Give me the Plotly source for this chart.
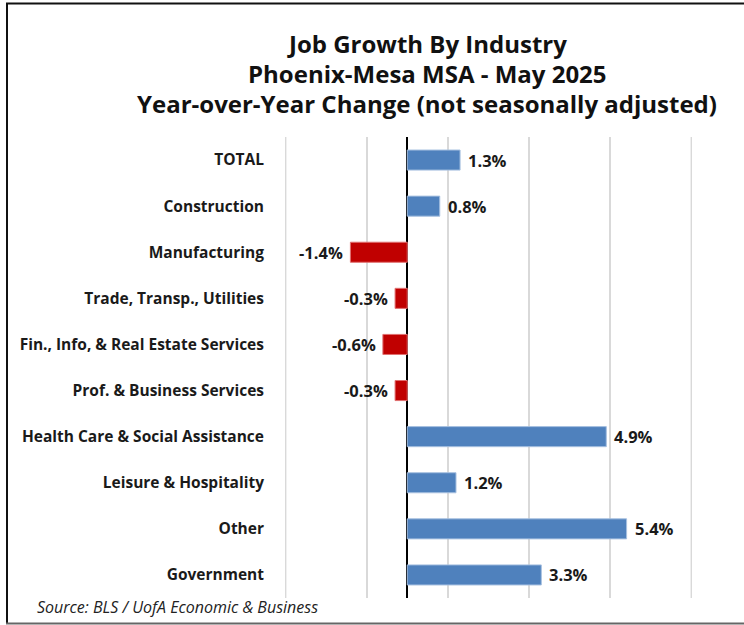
import plotly.graph_objects as go

# Year-over-year job change by industry, Phoenix-Mesa MSA, May 2025 (%)
industries = [
    "TOTAL",
    "Construction",
    "Manufacturing",
    "Trade, Transp., Utilities",
    "Fin., Info, & Real Estate Services",
    "Prof. & Business Services",
    "Health Care & Social Assistance",
    "Leisure & Hospitality",
    "Other",
    "Government",
]
yoy_change = [1.3, 0.8, -1.4, -0.3, -0.6, -0.3, 4.9, 1.2, 5.4, 3.3]

title_lines = [
    "Job Growth By Industry",
    "Phoenix-Mesa MSA - May 2025",
    "Year-over-Year Change (not seasonally adjusted)",
]
source_note = "Source: BLS / UofA Economic & Business"

X_MIN, X_MAX = -3, 7

POS_FILL, NEG_FILL = "#4F81BD", "#C00000"
POS_EDGE, NEG_EDGE = "#A7C0E0", "#E07070"
GRID = "#D9D9D9"
FONT = "'Open Sans', Lato, sans-serif"

fills = [POS_FILL if v >= 0 else NEG_FILL for v in yoy_change]
edges = [POS_EDGE if v >= 0 else NEG_EDGE for v in yoy_change]

fig = go.Figure(
    go.Bar(
        x=yoy_change,
        y=industries,
        orientation="h",
        marker=dict(color=fills, line=dict(color=edges, width=1)),
        hoverinfo="skip",
    )
)

W, H = 744, 625
L, R, T, B = 285, 52, 137, 27
plot_h = H - T - B

def py(y_px):
    # pixel row -> paper y
    return (H - B - y_px) / plot_h

def px(x_px):
    # pixel column -> paper x
    return (x_px - L) / (W - L - R)

annotations = []

# value labels just beyond the end of each bar
for name, v in zip(industries, yoy_change):
    annotations.append(
        dict(
            text=f"<b>{v:.1f}%</b>",
            x=v, y=name, xref="x", yref="y",
            xanchor="left" if v >= 0 else "right",
            xshift=6 if v >= 0 else -5,
            yanchor="middle", showarrow=False,
            font=dict(family=FONT, size=16.5, color="#1a1a1a"),
        )
    )

for line, yc in zip(title_lines, [43, 73, 103]):
    annotations.append(
        dict(
            text=f"<b>{line}</b>",
            x=px(427), y=py(yc), xref="paper", yref="paper",
            xanchor="center", yanchor="middle", showarrow=False,
            font=dict(family=FONT, size=24, color="#111111"),
        )
    )
annotations.append(
    dict(
        text=f"<i>{source_note}</i>",
        x=px(35), y=py(607), xref="paper", yref="paper",
        xanchor="left", yanchor="middle", showarrow=False,
        font=dict(family=FONT, size=16, color="#222222"),
    )
)

shapes = [
    # gridlines on the two ends of the value axis
    dict(type="line", xref="x", yref="paper", x0=xv, x1=xv, y0=0, y1=1,
         layer="below", line=dict(color=GRID, width=2))
    for xv in (X_MIN, X_MAX)
] + [
    # chart frame
    dict(type="line", xref="paper", yref="paper",
         x0=px(7), x1=px(7), y0=py(3.5), y1=py(623.5),
         line=dict(color="#111111", width=2)),
    dict(type="line", xref="paper", yref="paper",
         x0=px(6), x1=px(760), y0=py(3.5), y1=py(3.5),
         line=dict(color="#111111", width=2)),
    dict(type="line", xref="paper", yref="paper",
         x0=px(6), x1=px(760), y0=py(623.5), y1=py(623.5),
         line=dict(color="#666666", width=2)),
]

fig.update_layout(
    width=W,
    height=H,
    margin=dict(l=L, r=R, t=T, b=B, autoexpand=False),
    paper_bgcolor="white",
    plot_bgcolor="white",
    bargap=0.565,
    showlegend=False,
    annotations=annotations,
    shapes=shapes,
    xaxis=dict(
        range=[X_MIN - 0.01, X_MAX + 0.01],
        tick0=X_MIN,
        dtick=2,
        showticklabels=False,
        showgrid=True,
        gridcolor=GRID,
        gridwidth=2,
        zeroline=True,
        zerolinecolor="#000000",
        zerolinewidth=1.5,
        showline=False,
        fixedrange=True,
    ),
    yaxis=dict(
        autorange="reversed",
        showgrid=False,
        zeroline=False,
        showline=False,
        ticks="",
        ticklabelstandoff=20,
        tickfont=dict(family=FONT, size=15.5, color="#1a1a1a"),
        tickprefix="<b>",
        ticksuffix="</b>",
        fixedrange=True,
    ),
)

fig.write_html("out.html")
